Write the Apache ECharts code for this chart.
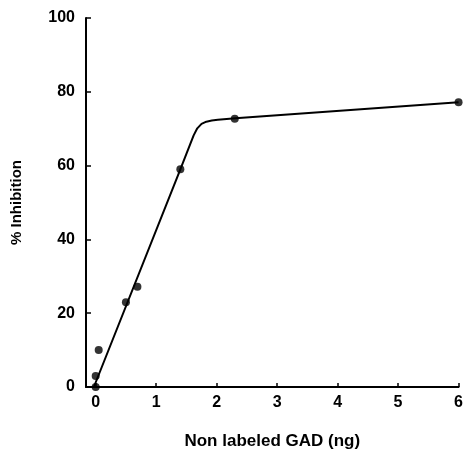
<!DOCTYPE html>
<html>
<head>
<meta charset="utf-8">
<script src="https://cdn.jsdelivr.net/npm/echarts@6/dist/echarts.min.js"></script>
<style>html,body{margin:0;padding:0;background:#fff}#c{width:466px;height:455px}</style>
</head>
<body>
<div id="c"></div>
<script>
// measured data points (x = non labeled GAD in ng, y = % inhibition)
const pointX = [0, 0, 0.05, 0.5, 0.69, 1.4, 2.3, 6];
const pointY = [0, 3, 10, 23, 27.2, 59, 72.7, 77.2];
// fitted curve
const curveX = [-0.03, 1.4, 1.5, 1.56, 1.62, 1.68, 1.75, 1.83, 1.92, 2.02, 2.31, 6];
const curveY = [0, 59, 63.2, 65.7, 68.2, 70.1, 71.3, 71.9, 72.2, 72.4, 72.8, 77.2];
const xTicks = [0, 1, 2, 3, 4, 5, 6];
const yTicks = [0, 20, 40, 60, 80, 100];

const font = 'Liberation Sans, Arial, Helvetica, sans-serif';
const chart = echarts.init(document.getElementById('c'), null, {renderer: 'canvas'});
chart.setOption({
  animation: false,
  backgroundColor: '#fff',
  grid: {left: 86, right: 4, top: 18, bottom: 62, containLabel: false},
  xAxis: {
    type: 'value', min: -0.16, max: 6,
    name: 'Non labeled GAD (ng)', nameLocation: 'middle', nameGap: 46,
    nameTextStyle: {fontFamily: font, fontSize: 17, fontWeight: 'bold', color: '#000'},
    axisLine: {show: true, onZero: false, lineStyle: {color: '#000', width: 2}},
    axisTick: {show: true, inside: true, length: 4, lineStyle: {color: '#000', width: 1.5}, customValues: xTicks},
    axisLabel: {fontFamily: font, fontSize: 16, fontWeight: 'bold', color: '#000', margin: 8, customValues: xTicks},
    splitLine: {show: false}
  },
  yAxis: {
    type: 'value', min: 0, max: 100, interval: 20,
    name: '% Inhibition', nameLocation: 'middle', nameGap: 62, nameRotate: 90,
    nameTextStyle: {fontFamily: font, fontSize: 15, fontWeight: 'bold', color: '#000'},
    axisLine: {show: true, onZero: false, lineStyle: {color: '#000', width: 2}},
    axisTick: {show: true, inside: true, length: 5, lineStyle: {color: '#000', width: 1.5}, customValues: yTicks},
    axisLabel: {fontFamily: font, fontSize: 16, fontWeight: 'bold', color: '#000', margin: 11, customValues: yTicks},
    splitLine: {show: false}
  },
  series: [
    {
      type: 'line',
      data: curveX.map((x, i) => [x, curveY[i]]),
      smooth: false,
      showSymbol: false,
      lineStyle: {color: '#000', width: 2, join: 'round'},
      silent: true
    },
    {
      type: 'scatter',
      data: pointX.map((x, i) => [x, pointY[i]]),
      symbol: 'circle', symbolSize: 8,
      itemStyle: {color: '#000'},
      clip: false
    }
  ]
});
</script>
</body>
</html>
